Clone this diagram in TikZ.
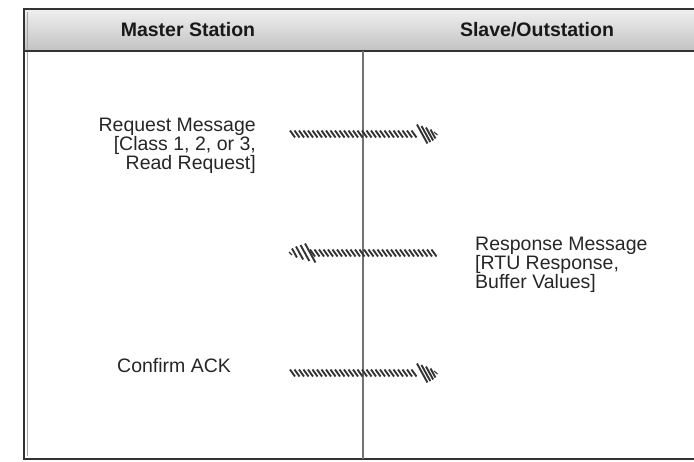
\documentclass[tikz,border=0pt]{standalone}
\usepackage{fontspec}
\setmainfont{Liberation Sans}
\begin{document}
\begin{tikzpicture}[x=1pt,y=-1pt,
  frameline/.style={draw=black!80, line width=1.4pt},
  divline/.style={draw=black!55, line width=1.3pt},
  headtext/.style={font=\fontsize{19.5}{20}\selectfont\bfseries, inner sep=0pt, text=black!90},
  msgtext/.style={font=\fontsize{19.5}{18.6}\selectfont, inner sep=0pt, text=black!85},
  stripe/.style={draw=black!80, line width=1.9pt}]
\useasboundingbox (0,0) rectangle (694,461);
% header band
\shade[top color=black!6, bottom color=black!24] (24,9) rectangle (700,51);
\draw[frameline] (700,9) -- (24,9) -- (24,459) -- (700,459);
\draw[draw=black!35, line width=0.8pt] (27,12) -- (27,456);
\draw[frameline] (24,51) -- (700,51);
\draw[divline] (363,51) -- (363,459);
% header texts
\node[headtext] (master) at (188,30) {Master Station};
\node[headtext] (slave) at (537,30) {Slave/Outstation};
% message texts
\node[msgtext, anchor=base east, align=right] (req) at (256,169)
  {Request Message\\{}{[}Class 1, 2, or 3,\\ Read Request{]}};
\node[msgtext, anchor=base west, align=left] (resp) at (475,288)
  {Response Message\\{}{[}RTU Response,\\ Buffer Values{]}};
\node[msgtext, anchor=base west] (ack) at (117,372) {Confirm ACK};
% hatched arrows
\newcommand\rightarrowhatch[1]{%
  \foreach \x in {290,294.5,...,414} {\draw[stripe] (\x,#1-3.5) -- (\x+5,#1+3.5);}
  \foreach \x/\h in {417/9.5,421.5/8,426/6.5,430.5/4.5} {\draw[stripe] (\x,#1-\h) -- (\x+1.1*\h,#1+\h);}
  \draw[stripe, line width=1.1pt] (434,#1-2) -- (437.5,#1+1);
}
\newcommand\leftarrowhatch[1]{%
  \foreach \x in {310,314.5,...,433} {\draw[stripe] (\x,#1-3.5) -- (\x+5,#1+3.5);}
  \foreach \x/\h in {305/9.5,300.5/8,296/6.5,292/4.5} {\draw[stripe] (\x,#1-\h) -- (\x+1.1*\h,#1+\h);}
  \draw[stripe, line width=1.1pt] (289,#1-1) -- (292,#1+2);
}
\rightarrowhatch{134}
\leftarrowhatch{253}
\rightarrowhatch{373}
\end{tikzpicture}
\end{document}
